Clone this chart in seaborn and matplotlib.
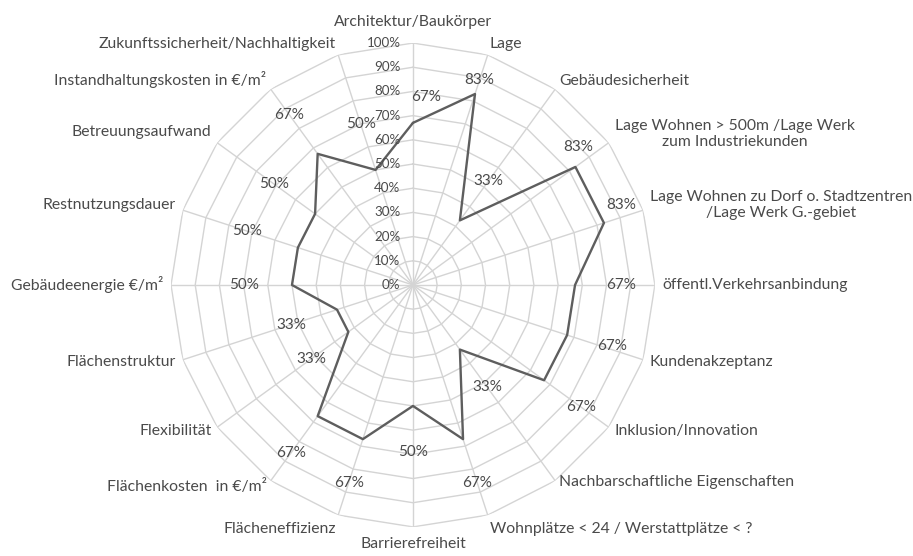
import numpy as np
import pandas as pd
import matplotlib
matplotlib.use("Agg")
import matplotlib.pyplot as plt
import seaborn as sns

categories = [
    "Architektur/Baukörper",
    "Lage",
    "Gebäudesicherheit",
    "Lage Wohnen > 500m /Lage Werk\nzum Industriekunden",
    "Lage Wohnen zu Dorf o. Stadtzentren\n/Lage Werk G.-gebiet",
    "öffentl.Verkehrsanbindung",
    "Kundenakzeptanz",
    "Inklusion/Innovation",
    "Nachbarschaftliche Eigenschaften",
    "Wohnplätze < 24 / Werstattplätze < ?",
    "Barrierefreiheit",
    "Flächeneffizienz",
    "Flächenkosten  in €/m²",
    "Flexibilität",
    "Flächenstruktur",
    "Gebäudeenergie €/m²",
    "Restnutzungsdauer",
    "Betreuungsaufwand",
    "Instandhaltungskosten in €/m²",
    "Zukunftssicherheit/Nachhaltigkeit",
]
values = [67, 83, 33, 83, 83, 67, 67, 67, 33, 67, 50, 67, 67, 33, 33, 50, 50, 50, 67, 50]
radial_ticks = [0, 10, 20, 30, 40, 50, 60, 70, 80, 90, 100]

# label placement (style): radial offset in % units and angle shift in degrees
label_r_offset = [11, 6, 20, 6, 9, 19, 19, 19, 19, 19, 19, 19, 19, 19, 20, 20, 22, 21, 20, 20]
label_angle_shift = [4, 0, 0, -4, -3, 0, -1, 0, 0, 0, 0, 0, 0, 0, 0, 0, 0, 0, 0, 0]
# category label vertical nudges (points)
cat_dy = [3, -2, -3, 3, 2, 0, 0, 0, 3, 0, 0, 0, 0, 0, 0, 0, 2, 5, -3, -2]

sns.set_style("white")
plt.rcParams["font.family"] = ["Lato", "DejaVu Sans"]

TEXT = "#4a4a4a"
GRID = "#d4d4d4"
LINE = "#5e5e5e"

n = len(categories)
theta = np.arange(n) * 2 * np.pi / n

fig = plt.figure(figsize=(9.13, 5.56), dpi=100)
ax = fig.add_axes([0.1873, 0.0522, 0.530, 0.8705], projection="polar")
ax.set_theta_zero_location("N")
ax.set_theta_direction(-1)
ax.set_ylim(0, 100)
ax.grid(False)
ax.set_xticks([])
ax.set_yticks([])
ax.spines["polar"].set_visible(False)
ax.set_facecolor("white")

# polygon grid
theta_closed = np.append(theta, theta[0])
for lvl in radial_ticks[1:]:
    ax.plot(theta_closed, [lvl] * (n + 1), color=GRID, lw=1.0, zorder=1)
for t in theta:
    ax.plot([t, t], [0, 100], color=GRID, lw=1.0, zorder=1)

# data
df = pd.DataFrame({"theta": theta_closed, "value": values + [values[0]]})
sns.lineplot(data=df, x="theta", y="value", ax=ax, sort=False, color=LINE,
             lw=1.7, zorder=3, estimator=None)
ax.set_xlabel("")
ax.set_ylabel("")
ax.set_ylim(0, 100)

# radial tick labels along top spoke
for lvl in radial_ticks:
    ax.annotate(f"{lvl}%", xy=(0, lvl), xytext=(-9, 0), textcoords="offset points",
                ha="right", va="center", fontsize=9.6, color=TEXT, zorder=4)

# data labels
for i, v in enumerate(values):
    t = theta[i] + np.deg2rad(label_angle_shift[i])
    ax.text(t, v + label_r_offset[i], f"{v}%", ha="center", va="center",
            fontsize=11, color=TEXT, zorder=4)

# category labels
for i, cat in enumerate(categories):
    s, c = np.sin(theta[i]), np.cos(theta[i])
    if s > 0.05:
        ha = "left"
    elif s < -0.05:
        ha = "right"
    else:
        ha = "center"
    if c > 0.75:
        va = "bottom"
    elif c < -0.9:
        va = "top"
    else:
        va = "center"
    r = 103
    if abs(s) < 0.05:
        r = 104
    ax.annotate(cat, xy=(theta[i], r), xytext=(0, cat_dy[i]), textcoords="offset points",
                ha=ha, va=va, fontsize=11.3, color=TEXT,
                multialignment="center", zorder=4, annotation_clip=False)

fig.savefig("out.png", dpi=100, facecolor="white")
